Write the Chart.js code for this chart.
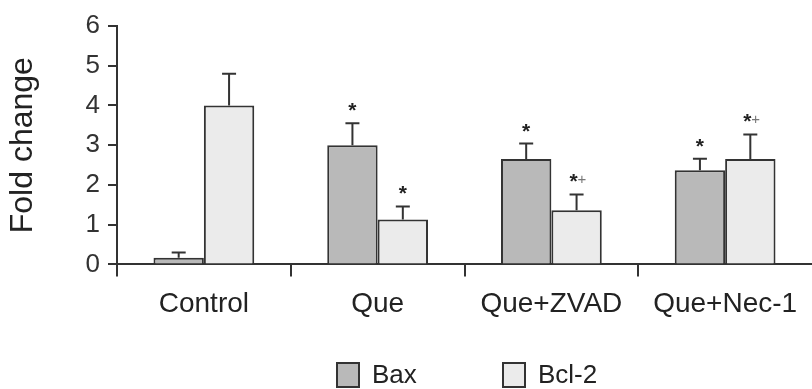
<!DOCTYPE html>
<html>
<head>
<meta charset="utf-8">
<script src="https://cdn.jsdelivr.net/npm/chart.js@4.4.1/dist/chart.umd.min.js"></script>
<style>
  html, body { margin: 0; padding: 0; background: #fff; }
  #wrap { width: 812px; height: 389px; }
</style>
</head>
<body>
<div id="wrap"><canvas id="myChart"></canvas></div>
<script>
// data
const groups = ['Control', 'Que', 'Que+ZVAD', 'Que+Nec-1'];
const baxValues = [0.17, 3.0, 2.65, 2.37];
const baxErrors = [0.13, 0.55, 0.39, 0.29];
const bclValues = [4.0, 1.13, 1.36, 2.65];
const bclErrors = [0.8, 0.33, 0.40, 0.62];
const baxMarks = ['', '*', '*', '*'];
const bclMarks = ['', '*', '*+', '*+'];
const yTicks = [0, 1, 2, 3, 4, 5, 6];

const ink = '#333333';
const font = "Arial, 'Liberation Sans', sans-serif";

// error bars + significance marks drawn on top of each bar
const errorBars = {
  id: 'errorBars',
  afterDatasetsDraw(chart) {
    const ctx = chart.ctx;
    const y = chart.scales.y;
    const errs = [baxErrors, bclErrors];
    const marks = [baxMarks, bclMarks];
    ctx.save();
    chart.data.datasets.forEach((ds, i) => {
      chart.getDatasetMeta(i).data.forEach((bar, j) => {
        const top = y.getPixelForValue(ds.data[j] + errs[i][j]);
        const base = y.getPixelForValue(ds.data[j]);
        ctx.strokeStyle = ink;
        ctx.lineWidth = 2;
        ctx.beginPath();
        ctx.moveTo(bar.x, base);
        ctx.lineTo(bar.x, top);
        ctx.moveTo(bar.x - 7, top);
        ctx.lineTo(bar.x + 7, top);
        ctx.stroke();

        const m = marks[i][j];
        if (m) {
          ctx.textBaseline = 'alphabetic';
          ctx.font = 'bold 21px ' + font;
          if (m.length > 1) {
            ctx.textAlign = 'right';
            ctx.fillStyle = '#222';
            ctx.fillText('*', bar.x + 1, top - 6);
            ctx.textAlign = 'left';
            ctx.font = '15px ' + font;
            ctx.fillStyle = '#777';
            ctx.fillText('+', bar.x + 1, top - 10);
          } else {
            ctx.textAlign = 'center';
            ctx.fillStyle = '#222';
            ctx.fillText('*', bar.x, top - 6);
          }
        }
      });
    });
    ctx.restore();
  }
};

// legend drawn below the axis, like the original figure
const boxLegend = {
  id: 'boxLegend',
  afterDraw(chart) {
    const ctx = chart.ctx;
    const yMid = chart.height - 14;
    let x = 337;
    ctx.save();
    chart.data.datasets.forEach((ds) => {
      ctx.fillStyle = ds.backgroundColor;
      ctx.strokeStyle = ink;
      ctx.lineWidth = 2;
      ctx.fillRect(x, yMid - 12, 22, 24);
      ctx.strokeRect(x, yMid - 12, 22, 24);
      ctx.fillStyle = '#222';
      ctx.font = '26px ' + font;
      ctx.textAlign = 'left';
      ctx.textBaseline = 'middle';
      ctx.fillText(ds.label, x + 35, yMid + 1);
      x += 166;
    });
    ctx.restore();
  }
};

const ctx = document.getElementById('myChart');

new Chart(ctx, {
  type: 'bar',
  data: {
    labels: groups,
    datasets: [
      {
        label: 'Bax',
        data: baxValues,
        backgroundColor: '#b9b9b9',
        borderColor: ink,
        borderWidth: 2,
        categoryPercentage: 0.58,
        barPercentage: 1
      },
      {
        label: 'Bcl-2',
        data: bclValues,
        backgroundColor: '#ebebeb',
        borderColor: ink,
        borderWidth: 2,
        categoryPercentage: 0.58,
        barPercentage: 1
      }
    ]
  },
  options: {
    responsive: true,
    maintainAspectRatio: false,
    animation: false,
    layout: {
      padding: { top: 26, right: -5, bottom: 57, left: 0 }
    },
    plugins: {
      legend: { display: false },
      tooltip: { enabled: false }
    },
    scales: {
      x: {
        border: { color: ink, width: 2 },
        grid: {
          drawOnChartArea: false,
          drawTicks: true,
          tickLength: 12,
          // no tick at the far right end of the axis
          color: (c) => c.type === 'tick' ? ink : 'rgba(0,0,0,0)',
          lineWidth: 2
        },
        ticks: {
          color: '#222',
          padding: 11,
          font: { family: font, size: 28 }
        }
      },
      y: {
        min: 0,
        max: 6,
        afterFit(scale) { scale.width = 117; },
        afterBuildTicks(scale) { scale.ticks = yTicks.map(v => ({ value: v })); },
        border: { color: ink, width: 2 },
        grid: {
          drawOnChartArea: false,
          drawTicks: true,
          tickLength: 9,
          color: ink,
          lineWidth: 2
        },
        ticks: {
          color: '#333',
          padding: 8,
          font: { family: font, size: 26 }
        },
        title: {
          display: true,
          text: 'Fold change',
          color: '#222',
          padding: 4,
          font: { family: font, size: 32 }
        }
      }
    }
  },
  plugins: [errorBars, boxLegend]
});
</script>
</body>
</html>
